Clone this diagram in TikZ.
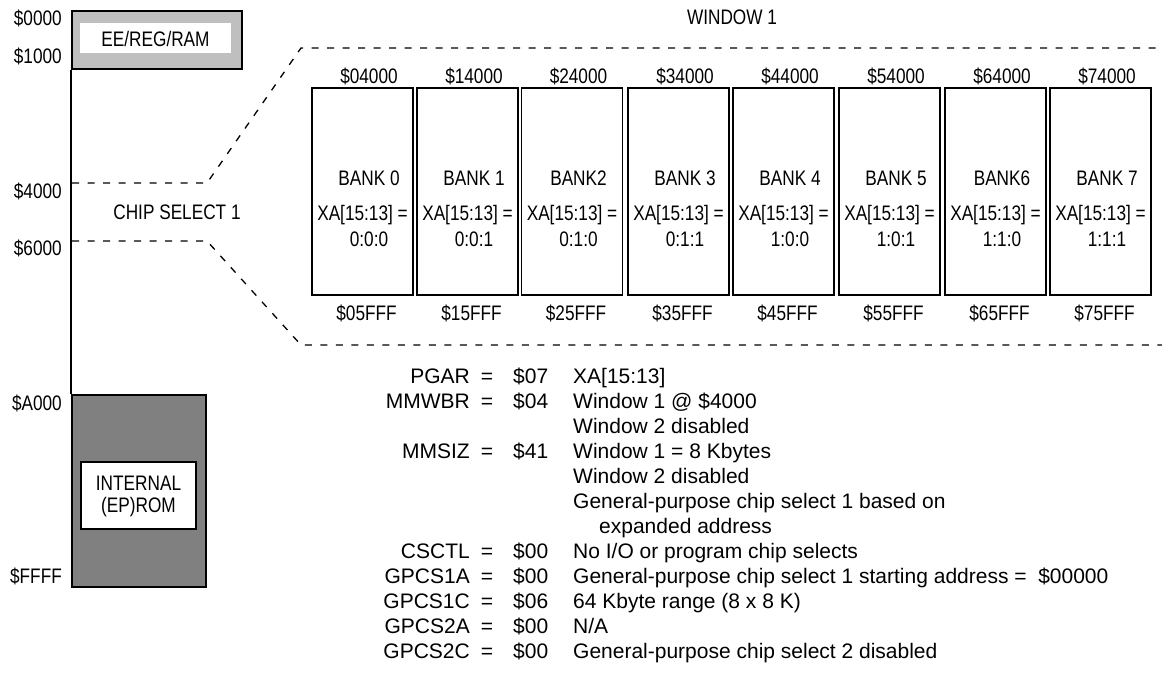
\documentclass[tikz,border=0pt]{standalone}
\usepackage{fontspec}
\setmainfont{Liberation Sans}
\newfontfamily\narrowfont[FakeStretch=0.82]{Liberation Sans}
\begin{document}
\begin{tikzpicture}[x=1pt,y=-1pt,
  nlbl/.style={font=\narrowfont\fontsize{21}{22}\selectfont, inner sep=0pt, text height=15pt, text depth=0pt},
  rlbl/.style={font=\fontsize{21}{22}\selectfont, inner sep=0pt, text height=15pt, text depth=0pt},
  dsh/.style={line width=1.3pt, dash pattern=on 7pt off 8.5pt},
  bankbox/.style={draw, line width=1.8pt, minimum width=101pt, minimum height=207pt, inner sep=0pt},
  mapbox/.style={draw, line width=1.8pt, inner sep=0pt, anchor=north west},
  ]
\useasboundingbox (0,0) rectangle (1162,680);

% memory map
\node[mapbox, fill=black!25, minimum width=170pt, minimum height=58pt] (ee) at (71,10) {};
\node[fill=white, inner sep=0pt, minimum width=151pt, minimum height=30pt] (eein) at (155.5,38) {};
\node[nlbl] (eetxt) at (155.5,39) {EE/REG/RAM};
\node[mapbox, fill=black!50, minimum width=134pt, minimum height=192pt] (rom) at (71,394) {};
\node[draw, line width=1.8pt, fill=white, inner sep=0pt, minimum width=115pt, minimum height=67pt] (romin) at (138.5,495.5) {};
\node[nlbl] (romt1) at (138.5,483) {INTERNAL};
\node[nlbl] (romt2) at (138.5,505) {(EP)ROM};
\draw[line width=1.8pt] (ee.south west) -- (rom.north west);

% address labels
\node[nlbl, anchor=east] (a0) at (62,18) {\$0000};
\node[nlbl, anchor=east] (a1) at (62,56) {\$1000};
\node[nlbl, anchor=east] (a4) at (62,191) {\$4000};
\node[nlbl, anchor=east] (a6) at (62,248) {\$6000};
\node[nlbl, anchor=east] (aA) at (62,403) {\$A000};
\node[nlbl, anchor=east] (aF) at (62,576) {\$FFFF};
\node[nlbl] (cs1) at (177,212) {CHIP SELECT 1};
\node[nlbl] (win) at (732,17) {WINDOW 1};

% window outline
\coordinate (s4) at (72,183);
\coordinate (k4) at (207,183);
\coordinate (wtl) at (301,48);
\coordinate (wtr) at (1162,48);
\coordinate (s6) at (72,241);
\coordinate (k6) at (207,241);
\coordinate (wbl) at (301,345);
\coordinate (wbr) at (1162,345);
\draw[dsh] (s4) -- (k4) -- (wtl) -- (wtr);
\draw[dsh] (s6) -- (k6) -- (wbl) -- (wbr);

% banks
\foreach \i/\c/\ta/\ba/\nm/\val in {
  0/362.5/04000/05FFF/BANK 0/0:0:0,
  1/467.5/14000/15FFF/BANK 1/0:0:1,
  2/572/24000/25FFF/BANK2/0:1:0,
  3/678.5/34000/35FFF/BANK 3/0:1:1,
  4/783.5/44000/45FFF/BANK 4/1:0:0,
  5/889.5/54000/55FFF/BANK 5/1:0:1,
  6/995.5/64000/65FFF/BANK6/1:1:0,
  7/1100.5/74000/75FFF/BANK 7/1:1:1} {
  \node[bankbox] (bank\i) at (\c,191.5) {};
  \node[nlbl, xshift=6.5pt] (top\i) at (\c,75.5) {\$\ta};
  \node[nlbl, xshift=6.5pt] (name\i) at (\c,177.5) {\nm};
  \node[nlbl] (xa\i) at (\c,213) {XA[15:13] =};
  \node[nlbl, xshift=6.5pt] (val\i) at (\c,239) {\val};
  \node[nlbl, xshift=4pt] (bot\i) at (\c,313) {\$\ba};
}

% register table
\foreach \k/\rg/\vl/\ds in {
  0/PGAR/\$07/{XA[15:13]},
  1/MMWBR/\$04/{Window 1 @ \$4000},
  3/MMSIZ/\$41/{Window 1 = 8 Kbytes},
  7/CSCTL/\$00/{No I/O or program chip selects},
  8/GPCS1A/\$00/{General-purpose chip select 1 starting address =\ \ \$00000},
  9/GPCS1C/\$06/{64 Kbyte range (8 x 8 K)},
  10/GPCS2A/\$00/{N/A},
  11/GPCS2C/\$00/{General-purpose chip select 2 disabled}} {
  \node[rlbl, anchor=east] (rg\k) at (470,376+25*\k) {\rg};
  \node[rlbl] (eq\k) at (487,376+25*\k) {=};
  \node[rlbl, anchor=west] (vl\k) at (513,376+25*\k) {\vl};
  \node[rlbl, anchor=west] (ds\k) at (573,376+25*\k) {\ds};
}
\node[rlbl, anchor=west] (ds2) at (573,426) {Window 2 disabled};
\node[rlbl, anchor=west] (ds4) at (573,476) {Window 2 disabled};
\node[rlbl, anchor=west] (ds5) at (573,501) {General-purpose chip select 1 based on};
\node[rlbl, anchor=west] (ds6) at (599,526) {expanded address};
\end{tikzpicture}
\end{document}
